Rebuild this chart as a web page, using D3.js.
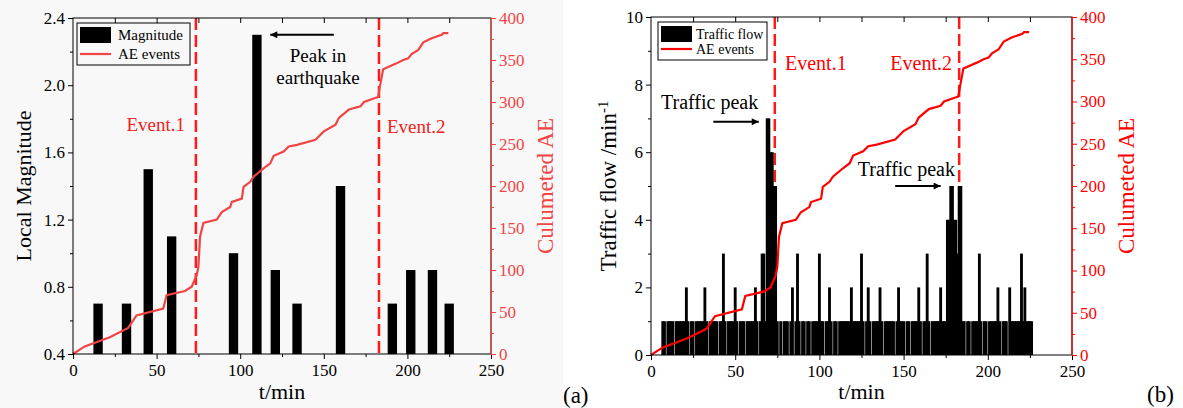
<!DOCTYPE html>
<meta charset="utf-8" />
<style>
  body { margin: 0; background: #fff; }
</style>
<svg width="1183" height="408" font-family="'Liberation Serif', 'Times New Roman', serif"></svg>
<script src="https://d3js.org/d3.v7.min.js"></script>
<script>
  // panel (a): local magnitude of quakes
  var quakeTime = [15, 32, 45, 59, 96, 110, 121, 134, 160, 191, 202, 215, 225];
  var quakeMag = [0.7, 0.7, 1.5, 1.1, 1.0, 2.3, 0.9, 0.7, 1.4, 0.7, 0.9, 0.9, 0.7];

  // panel (b): traffic flow per minute, starting at minute 1
  var trafficStart = 1;
  var trafficFlow = [
    0, 0, 0, 0, 0, 0, 1, 1, 0, 1,
    1, 1, 1, 0, 1, 1, 1, 1, 1, 1,
    2, 1, 0, 1, 1, 0, 1, 1, 1, 1,
    1, 2, 1, 0, 1, 1, 1, 1, 1, 0,
    1, 1, 3, 1, 0, 1, 1, 1, 1, 2,
    1, 0, 1, 1, 1, 0, 1, 1, 1, 1,
    1, 2, 1, 0, 1, 3, 3, 1, 7, 7,
    6, 6, 5, 5, 1, 0, 1, 0, 1, 1,
    1, 0, 1, 2, 0, 1, 3, 1, 0, 1,
    1, 0, 1, 1, 0, 1, 1, 1, 1, 3,
    1, 1, 0, 1, 1, 2, 1, 0, 1, 1,
    0, 1, 1, 1, 1, 1, 1, 1, 2, 1,
    1, 1, 1, 1, 3, 1, 0, 1, 2, 1,
    0, 1, 1, 1, 1, 2, 1, 0, 1, 1,
    1, 1, 1, 1, 0, 1, 2, 1, 1, 1,
    0, 1, 1, 0, 1, 1, 1, 1, 2, 1,
    0, 1, 1, 3, 1, 0, 1, 1, 1, 1,
    1, 2, 1, 1, 1, 4, 4, 5, 5, 4,
    4, 3, 5, 5, 1, 1, 0, 1, 1, 0,
    1, 1, 1, 1, 3, 1, 0, 1, 1, 0,
    1, 1, 1, 1, 1, 2, 1, 0, 1, 1,
    1, 0, 2, 1, 1, 1, 1, 1, 1, 3,
    1, 2, 1, 1, 1, 1
  ];

  // cumulative AE events (shared by both panels)
  var aeTime = [0, 7, 22, 33, 36, 38, 54, 56, 67, 71, 74, 75, 76, 78, 86, 89, 94, 95, 101, 102,
    106, 108, 114, 118, 120, 126, 129, 134, 145, 150, 157, 159, 165, 172, 174, 182.5, 183.5,
    185.5, 193.5, 197.5, 200.5, 202.5, 206.5, 209.5, 214.5, 220.5, 221.5, 224.5];
  var aeCount = [0, 9, 20, 31, 40, 46, 54, 70, 75, 80, 94, 104, 140, 156, 160, 169, 175, 181, 185, 199,
    205, 211, 221, 227, 236, 241, 247, 249, 255, 265, 273, 281, 291, 295, 300, 306, 318,
    339, 346, 350, 352, 357, 362, 371, 376, 380, 382, 382];

  var eventTime = [73.5, 183];
  var eventName = ["Event.1", "Event.2"];

  var xTicks = [0, 50, 100, 150, 200, 250];
  var aeTicks = [0, 50, 100, 150, 200, 250, 300, 350, 400];

  var serif = "'Liberation Serif', 'Times New Roman', serif";
  var svg = d3.select("svg");
  svg.append("rect").attr("width", 563).attr("height", 408).attr("fill", "#f8f8f8");

  var ae = aeTime.map((t, i) => [t, aeCount[i]]);

  function panel(o) {
    var g = svg.append("g");
    var x = d3.scaleLinear().domain([0, 250]).range([o.left, o.right]);
    var y = d3.scaleLinear().domain(o.yDomain).range([o.bottom, o.top]);
    var y2 = d3.scaleLinear().domain([0, 400]).range([o.bottom, o.top]);

    // event lines (behind bars)
    eventTime.forEach(function (t) {
      g.append("line")
        .attr("x1", x(t)).attr("x2", x(t))
        .attr("y1", o.top).attr("y2", o.bottom)
        .attr("stroke", "#ff1a1a").attr("stroke-width", 2.5)
        .attr("stroke-dasharray", "12,5");
    });

    // bars
    g.append("g").selectAll("rect").data(o.bars.filter(d => d[1] > o.yDomain[0])).join("rect")
      .attr("x", d => x(d[0] - o.barW / 2))
      .attr("width", d => x(o.barW) - x(0))
      .attr("y", d => y(d[1]))
      .attr("height", d => y(o.yDomain[0]) - y(d[1]))
      .attr("fill", "#000");

    // AE line
    g.append("path").datum(ae)
      .attr("d", d3.line().x(d => x(d[0])).y(d => y2(d[1])))
      .attr("fill", "none").attr("stroke", o.red).attr("stroke-width", 2.2);

    // frame
    g.append("rect").attr("x", o.left).attr("y", o.top)
      .attr("width", o.right - o.left).attr("height", o.bottom - o.top)
      .attr("fill", "none").attr("stroke", "#000").attr("stroke-width", 1);

    function styleAxis(sel, color) {
      sel.attr("font-family", serif).attr("font-size", 17);
      sel.select(".domain").remove();
      sel.selectAll("line").attr("stroke", color);
      sel.selectAll("text").attr("fill", color);
    }

    // bottom axis
    g.append("g").attr("transform", "translate(0," + o.bottom + ")")
      .call(d3.axisBottom(x).tickValues(xTicks).tickSize(5).tickPadding(5))
      .call(s => styleAxis(s, "#000"));
    g.append("g").attr("transform", "translate(0," + o.bottom + ")")
      .call(d3.axisBottom(x).tickValues([25, 75, 125, 175, 225]).tickSize(3).tickFormat(""))
      .call(s => styleAxis(s, "#000"));
    // top mirror ticks
    g.append("g").attr("transform", "translate(0," + o.top + ")")
      .call(d3.axisBottom(x).tickValues([25, 50, 75, 100, 125, 150, 175, 200, 225]).tickSize(5).tickFormat(""))
      .call(s => styleAxis(s, "#000"));

    // left axis
    g.append("g").attr("transform", "translate(" + o.left + ",0)")
      .call(d3.axisLeft(y).tickValues(o.yTicks).tickSize(5).tickPadding(3).tickFormat(o.yFormat))
      .call(s => styleAxis(s, "#000"));
    g.append("g").attr("transform", "translate(" + o.left + ",0)")
      .call(d3.axisLeft(y).tickValues(o.yMinor).tickSize(3).tickFormat(""))
      .call(s => styleAxis(s, "#000"));

    // right axis
    g.append("g").attr("transform", "translate(" + o.right + ",0)")
      .call(d3.axisRight(y2).tickValues(aeTicks).tickSize(5).tickPadding(3))
      .call(s => styleAxis(s, o.redAxis));
    g.append("g").attr("transform", "translate(" + o.right + ",0)")
      .call(d3.axisRight(y2).tickValues([25, 75, 125, 175, 225, 275, 325, 375]).tickSize(3).tickFormat(""))
      .call(s => styleAxis(s, o.redAxis));
    g.append("line").attr("x1", o.right).attr("x2", o.right)
      .attr("y1", o.top).attr("y2", o.bottom).attr("stroke", o.redAxis).attr("stroke-width", 1.2);

    // axis titles
    g.append("text").attr("x", (o.left + o.right) / 2).attr("y", 399)
      .attr("text-anchor", "middle").attr("font-size", 22).text("t/min");
    g.append("text").attr("transform", "translate(" + o.yTitleX + "," + (o.top + o.bottom) / 2 + ") rotate(-90)")
      .attr("text-anchor", "middle").attr("font-size", o.yTitleSize).call(o.yTitle);
    g.append("text").attr("transform", "translate(" + (o.right + 62) + "," + (o.top + o.bottom) / 2 + ") rotate(-90)")
      .attr("text-anchor", "middle").attr("font-size", 23).attr("fill", o.redAxis).text("Culumeted AE");

    // legend
    var lg = g.append("g").attr("transform", "translate(" + (o.left + o.legendDx) + "," + (o.top + 5) + ")");
    lg.append("rect").attr("width", o.legendW).attr("height", o.legendH).attr("fill", o.bg)
      .attr("stroke", "#000").attr("stroke-width", 1);
    lg.append("rect").attr("x", 3).attr("y", 4).attr("width", 31).attr("height", 16).attr("fill", "#000");
    lg.append("line").attr("x1", 3).attr("x2", 34).attr("y1", o.legendH - 11).attr("y2", o.legendH - 11)
      .attr("stroke", o.red).attr("stroke-width", 2.2);
    lg.append("text").attr("x", o.legendTx).attr("y", 17).attr("font-size", o.legendFs).text(o.barName);
    lg.append("text").attr("x", o.legendTx).attr("y", o.legendH - 6).attr("font-size", o.legendFs).text("AE events");

    return { g: g, x: x, y: y };
  }

  // ---- panel (a)
  var a = panel({
    left: 73, right: 491, top: 18, bottom: 354,
    yDomain: [0.4, 2.4], yTicks: [0.4, 0.8, 1.2, 1.6, 2.0, 2.4], yMinor: [0.6, 1.0, 1.4, 1.8, 2.2],
    yFormat: d3.format(".1f"),
    bars: quakeTime.map((t, i) => [t, quakeMag[i]]), barW: 5.6,
    red: "#f24444", redAxis: "#f24444", bg: "#f8f8f8",
    yTitleX: 31, yTitleSize: 22, yTitle: s => s.text("Local Magnitude"),
    legendDx: 4, legendW: 113, legendH: 42, legendTx: 41, legendFs: 15, barName: "Magnitude"
  });
  a.g.append("text").attr("x", 185).attr("y", 131).attr("text-anchor", "end")
    .attr("fill", "#f02020").attr("font-size", 19).text(eventName[0]);
  a.g.append("text").attr("x", 387).attr("y", 133)
    .attr("fill", "#f02020").attr("font-size", 19).text(eventName[1]);
  a.g.append("text").attr("x", 318).attr("y", 62).attr("text-anchor", "middle")
    .attr("font-size", 19).text("Peak in");
  a.g.append("text").attr("x", 318).attr("y", 84).attr("text-anchor", "middle")
    .attr("font-size", 19).text("earthquake");

  // ---- panel (b)
  var b = panel({
    left: 651, right: 1072, top: 17, bottom: 355,
    yDomain: [0, 10], yTicks: [0, 2, 4, 6, 8, 10], yMinor: [1, 3, 5, 7, 9],
    yFormat: d3.format("d"),
    bars: trafficFlow.map((v, i) => [trafficStart + i, v]), barW: 1.7,
    red: "#ff0000", redAxis: "#ff0000", bg: "#fff",
    yTitleX: 616, yTitleSize: 23,
    yTitle: s => {
      s.append("tspan").text("Traffic flow /min");
      s.append("tspan").attr("baseline-shift", "super").attr("font-size", 15).text("-1");
    },
    legendDx: 7, legendW: 109, legendH: 38, legendTx: 38, legendFs: 14, barName: "Traffic flow"
  });
  b.g.append("text").attr("x", 785).attr("y", 70)
    .attr("fill", "#ff0000").attr("font-size", 20).text(eventName[0]);
  b.g.append("text").attr("x", 952).attr("y", 70).attr("text-anchor", "end")
    .attr("fill", "#ff0000").attr("font-size", 20).text(eventName[1]);
  b.g.append("text").attr("x", 661).attr("y", 109).attr("font-size", 20).text("Traffic peak");
  b.g.append("text").attr("x", 955).attr("y", 176).attr("text-anchor", "end")
    .attr("font-size", 20).text("Traffic peak");

  // arrows
  var defs = svg.append("defs");
  defs.append("marker").attr("id", "ah").attr("viewBox", "0 0 10 10")
    .attr("refX", 10).attr("refY", 5).attr("markerWidth", 12).attr("markerHeight", 7)
    .attr("markerUnits", "userSpaceOnUse").attr("orient", "auto")
    .append("path").attr("d", "M0,0L10,5L0,10z").attr("fill", "#000");
  [[a, 156, 2.3, 118, 2.3], [b, 37, 6.9, 64, 6.9], [b, 145, 5.0, 172, 5.0]].forEach(function (r) {
    var p = r[0];
    p.g.append("line")
      .attr("x1", p.x(r[1])).attr("x2", p.x(r[3]))
      .attr("y1", p.y(r[2])).attr("y2", p.y(r[4]))
      .attr("stroke", "#000").attr("stroke-width", 2).attr("marker-end", "url(#ah)");
  });

  svg.append("text").attr("x", 563).attr("y", 403).attr("font-size", 23).text("(a)");
  svg.append("text").attr("x", 1147).attr("y", 402).attr("font-size", 23).text("(b)");
</script>
